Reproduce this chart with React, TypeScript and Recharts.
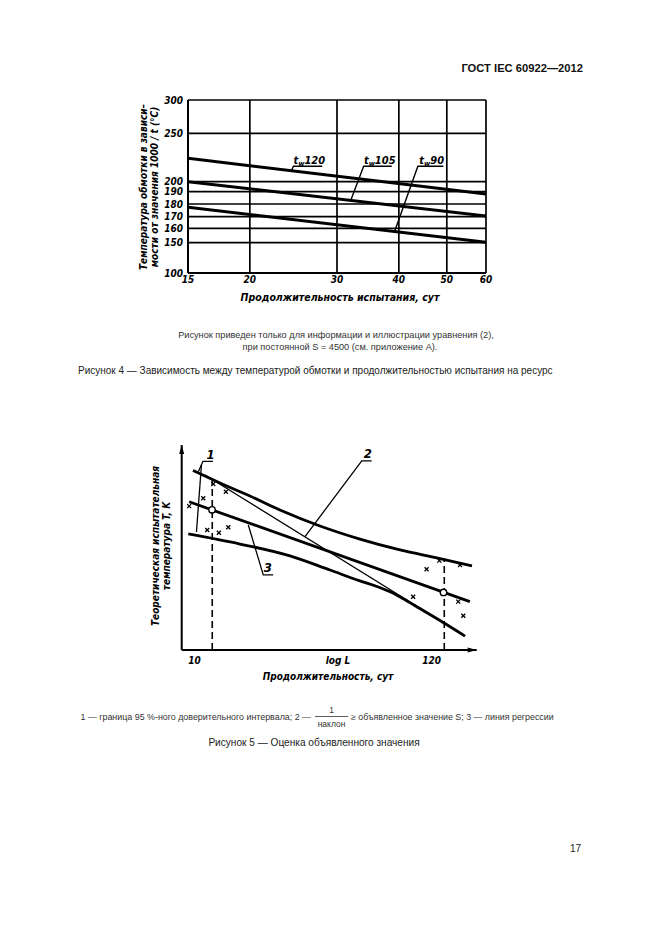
import React from 'react';
import { ComposedChart, Line, XAxis, YAxis, CartesianGrid, ReferenceDot, Scatter } from 'recharts';

const CHART_FONT = "'DejaVu Sans Condensed', 'Liberation Sans Narrow', 'DejaVu Sans', sans-serif";
const TEXT_FONT = "'Liberation Sans', Arial, sans-serif";

// ===== Figure 4 =====
const F4_DAY_TICKS = [15, 20, 30, 40, 50, 60];
const F4_TEMP_TICKS = [100, 150, 160, 170, 180, 190, 200, 250, 300];
// the printed temperature axis is non-uniform: relative height of each tick
const F4_TEMP_STEPS = [0, 0.1751, 0.2584, 0.3254, 0.3988, 0.4699, 0.5277, 0.8075, 1];
const F4_DAYS = [15, 60];
const F4_TW120 = [224.2, 188.1];
const F4_TW105 = [200, 170.6];
const F4_TW90 = [177.4, 150.3];
const F4_LEAD_120 = [{ day: 28.0, temp: 216 }, { day: 24.5, temp: 216 }, { day: 24.25, temp: 211.1 }];
const F4_LEAD_105 = [{ day: 38.7, temp: 216 }, { day: 33.96, temp: 216 }, { day: 32.0, temp: 183.2 }];
const F4_LEAD_90 = [{ day: 49.2, temp: 216 }, { day: 43.7, temp: 216 }, { day: 39.2, temp: 157.6 }];
const F4_LABELS = [
  { day: 24.5, temp: 218.8, text: '120' },
  { day: 34.0, temp: 218.8, text: '105' },
  { day: 44.0, temp: 218.8, text: '90' },
];

// ===== Figure 5 =====
const F5_X_DOMAIN = [0.942, 2.284]; // log L
const F5_Y_DOMAIN = [0, 100];
const F5_X_TICKS = [1, 1.653, 2.079];
const F5_X_TICK_LABELS = ['10', 'log L', '120'];
const F5_UPPER_X = [0.993, 1.116, 1.2525, 1.389, 1.571, 1.753, 1.935, 2.117, 2.2625];
const F5_UPPER_Y = [87.6, 81.5, 75.1, 68.3, 60.5, 54.1, 48.8, 44.6, 41.0];
const F5_REG_X = [0.976, 2.253];
const F5_REG_Y = [72.3, 23.6];
const F5_SLOPE_X = [1.048, 2.231];
const F5_SLOPE_Y = [85.4, 6.8];
const F5_LOWER_X = [0.972, 1.207, 1.4345, 1.6165, 1.753, 1.83, 1.89, 1.94, 2.0, 2.117, 2.231];
const F5_LOWER_Y = [56.6, 51.7, 45.9, 39.0, 33.7, 31.0, 28.4, 25.6, 21.8, 14.4, 6.8];
const F5_CIRCLES = [{ x: 1.080, y: 68.4 }, { x: 2.133, y: 28.1 }];
const F5_CROSSES = [
  { x: 1.040, y: 74.0 }, { x: 0.976, y: 70.2 }, { x: 1.058, y: 58.5 }, { x: 1.111, y: 57.2 },
  { x: 1.154, y: 59.9 }, { x: 1.0855, y: 81.0 }, { x: 1.143, y: 77.2 }, { x: 1.995, y: 26.0 },
  { x: 2.056, y: 39.4 }, { x: 2.114, y: 43.6 }, { x: 2.208, y: 41.5 }, { x: 2.200, y: 23.6 },
  { x: 2.223, y: 16.7 },
];
const F5_BOUND_1 = [{ x: 1.081, y: 0 }, { x: 1.081, y: 85.2 }];
const F5_BOUND_2 = [{ x: 2.1365, y: 0 }, { x: 2.1365, y: 44.9 }];
const F5_LEAD_1A = [{ x: 1.0842, y: 92.05 }, { x: 1.0387, y: 92.05 }, { x: 1.0182, y: 87.07 }];
const F5_LEAD_1B = [{ x: 1.0318, y: 90.24 }, { x: 1.0091, y: 57.56 }];
const F5_LEAD_2 = [{ x: 1.806, y: 92.3 }, { x: 1.761, y: 92.3 }, { x: 1.503, y: 55.3 }];
const F5_LEAD_3 = [{ x: 1.358, y: 36.6 }, { x: 1.313, y: 36.6 }, { x: 1.245, y: 61.0 }];
const F5_LABELS = [
  { x: 1.0728, y: 93.2, text: '1' },
  { x: 1.789, y: 93.7, text: '2' },
  { x: 1.334, y: 38.0, text: '3' },
];

function tempToScale(t: number): number {
  const n = F4_TEMP_TICKS.length;
  for (let i = 0; i < n - 1; i++) {
    const a = F4_TEMP_TICKS[i];
    const b = F4_TEMP_TICKS[i + 1];
    if (t <= b || i === n - 2) {
      return F4_TEMP_STEPS[i] + ((t - a) / (b - a)) * (F4_TEMP_STEPS[i + 1] - F4_TEMP_STEPS[i]);
    }
  }
  return 0;
}
function scaleLabel(v: number): string {
  let best = 0;
  F4_TEMP_STEPS.forEach((s, i) => {
    if (Math.abs(s - v) < Math.abs(F4_TEMP_STEPS[best] - v)) best = i;
  });
  return String(F4_TEMP_TICKS[best]);
}
const f4Series = (temps: number[]) => F4_DAYS.map((d, i) => ({ x: d, y: tempToScale(temps[i]) }));
const f4Pts = (pts: { day: number; temp: number }[]) => pts.map((p) => ({ x: p.day, y: tempToScale(p.temp) }));
const f5Series = (xs: number[], ys: number[]) => xs.map((x, i) => ({ x, y: ys[i] }));

const tickStyle = { fill: '#000', fontFamily: CHART_FONT, fontWeight: 700, fontStyle: 'italic', fontSize: 10, fontStretch: 'condensed' } as any;

const Cross = (p: any) => (
  <g stroke="#000" strokeWidth={1.3}>
    <line x1={p.cx - 2} y1={p.cy - 2} x2={p.cx + 2} y2={p.cy + 2} />
    <line x1={p.cx - 2} y1={p.cy + 2} x2={p.cx + 2} y2={p.cy - 2} />
  </g>
);
const Ring = (p: any) => <circle cx={p.cx} cy={p.cy} r={3.2} fill="#fff" stroke="#000" strokeWidth={1.4} />;

function Figure4() {
  const thin = { stroke: '#000', strokeWidth: 1.4, dot: false, isAnimationActive: false };
  const thick = { stroke: '#000', strokeWidth: 3, dot: false, isAnimationActive: false };
  const yTicks = F4_TEMP_TICKS.map(tempToScale);
  return (
    <ComposedChart width={661} height={320} margin={{ top: 100, right: 175, bottom: 17, left: 158 }}>
      <CartesianGrid stroke="#000" strokeWidth={1.7} />
      <XAxis type="number" dataKey="x" scale="log" domain={[15, 60]} ticks={F4_DAY_TICKS} allowDataOverflow
        interval={0} tickLine={false} tickSize={0} tickMargin={3} height={30}
        axisLine={{ stroke: '#000', strokeWidth: 2 }} tick={tickStyle} />
      <YAxis type="number" dataKey="y" domain={[0, 1]} ticks={yTicks} allowDataOverflow interval={0}
        tickFormatter={scaleLabel} tickLine={false} tickSize={0} tickMargin={5} width={30}
        axisLine={{ stroke: '#000', strokeWidth: 2 }} tick={tickStyle} />
      <Line data={f4Series(F4_TW120)} dataKey="y" {...thick} />
      <Line data={f4Series(F4_TW105)} dataKey="y" {...thick} />
      <Line data={f4Series(F4_TW90)} dataKey="y" {...thick} />
      <Line data={f4Pts(F4_LEAD_120)} dataKey="y" {...thin} />
      <Line data={f4Pts(F4_LEAD_105)} dataKey="y" {...thin} />
      <Line data={f4Pts(F4_LEAD_90)} dataKey="y" {...thin} />
      {F4_LABELS.map((l) => (
        <ReferenceDot key={l.text} x={l.day} y={tempToScale(l.temp)} r={0} ifOverflow="visible"
          shape={(p: any) => (
            <text x={p.cx} y={p.cy} fontFamily={CHART_FONT} fontWeight={700} fontStyle="italic" fontSize={11}
              style={{ fontStretch: 'condensed' }} fill="#000">
              <tspan>t</tspan>
              <tspan dy={2.5} fontSize={7.5}>w</tspan>
              <tspan dy={-2.5}>{l.text}</tspan>
            </text>
          )} />
      ))}
    </ComposedChart>
  );
}

function Figure5() {
  const thick = { stroke: '#000', strokeWidth: 2.8, dot: false, isAnimationActive: false };
  const thin = { stroke: '#000', strokeWidth: 1.3, dot: false, isAnimationActive: false };
  const dashed = { stroke: '#000', strokeWidth: 1.6, strokeDasharray: '7 4', dot: false, isAnimationActive: false };
  return (
    <ComposedChart width={661} height={300} margin={{ top: 45, right: 184.3, bottom: 20, left: 151.7 }}>
      <XAxis type="number" dataKey="x" domain={F5_X_DOMAIN} ticks={F5_X_TICKS} allowDataOverflow interval={0}
        tickFormatter={(v: number) => F5_X_TICK_LABELS[F5_X_TICKS.indexOf(v)] ?? ''}
        tickLine={false} tickSize={0} tickMargin={7} height={30}
        axisLine={{ stroke: '#000', strokeWidth: 2 }} tick={tickStyle} />
      <YAxis type="number" dataKey="y" domain={F5_Y_DOMAIN} allowDataOverflow tick={false} tickLine={false}
        width={30} axisLine={{ stroke: '#000', strokeWidth: 2 }} />
      <Line data={f5Series(F5_UPPER_X, F5_UPPER_Y)} dataKey="y" type="monotone" {...thick} />
      <Line data={f5Series(F5_REG_X, F5_REG_Y)} dataKey="y" {...thick} />
      <Line data={f5Series(F5_LOWER_X, F5_LOWER_Y)} dataKey="y" type="monotone" {...thick} />
      <Line data={f5Series(F5_SLOPE_X, F5_SLOPE_Y)} dataKey="y" {...thin} />
      <Line data={F5_BOUND_1} dataKey="y" {...dashed} />
      <Line data={F5_BOUND_2} dataKey="y" {...dashed} />
      <Line data={F5_LEAD_1A} dataKey="y" {...thin} />
      <Line data={F5_LEAD_1B} dataKey="y" {...thin} />
      <Line data={F5_LEAD_2} dataKey="y" {...thin} />
      <Line data={F5_LEAD_3} dataKey="y" {...thin} />
      <Scatter data={F5_CROSSES} dataKey="y" shape={Cross} isAnimationActive={false} />
      <Scatter data={F5_CIRCLES} dataKey="y" shape={Ring} isAnimationActive={false} />
      {F5_LABELS.map((l) => (
        <ReferenceDot key={l.text} x={l.x} y={l.y} r={0} ifOverflow="visible"
          shape={(p: any) => (
            <text x={p.cx} y={p.cy} textAnchor="middle" fontFamily={CHART_FONT} fontWeight={700}
              fontStyle="italic" fontSize={13} fill="#000">{l.text}</text>
          )} />
      ))}
      <ReferenceDot x={F5_X_DOMAIN[1]} y={F5_Y_DOMAIN[0]} r={0} ifOverflow="visible"
        shape={(p: any) => <polygon points={`${p.cx},${p.cy} ${p.cx - 9},${p.cy - 2.5} ${p.cx - 9},${p.cy + 2.5}`} fill="#000" />} />
      <ReferenceDot x={F5_X_DOMAIN[0]} y={F5_Y_DOMAIN[1]} r={0} ifOverflow="visible"
        shape={(p: any) => <polygon points={`${p.cx},${p.cy} ${p.cx - 2.5},${p.cy + 9} ${p.cx + 2.5},${p.cy + 9}`} fill="#000" />} />
    </ComposedChart>
  );
}

export default function App() {
  const axisTitle = { fontFamily: CHART_FONT, fontWeight: 700, fontStyle: 'italic', fill: '#000', style: { fontStretch: 'condensed' } } as any;
  const body = { fontFamily: TEXT_FONT, fill: '#222' } as any;
  return (
    <div style={{ position: 'absolute', left: 0, top: 0, width: 661, height: 935, background: '#fff', overflow: 'hidden' }}>
      <div style={{ position: 'absolute', left: 0, top: 0 }}><Figure4 /></div>
      <div style={{ position: 'absolute', left: 0, top: 400 }}><Figure5 /></div>
      <svg width={661} height={935} style={{ position: 'absolute', left: 0, top: 0, pointerEvents: 'none' }}>
        <text x={583} y={72} textAnchor="end" fontFamily={TEXT_FONT} fontWeight={700} fontSize={11.2} fill="#111">ГОСТ IEC 60922—2012</text>

        <text x={147} y={187} transform="rotate(-90 147 187)" textAnchor="middle" fontSize={10} {...axisTitle}>Температура обмотки в зависи–</text>
        <text x={157.5} y={187} transform="rotate(-90 157.5 187)" textAnchor="middle" fontSize={10} {...axisTitle}>мости от значения 1000 / t (°C)</text>
        <text x={340} y={301} textAnchor="middle" fontSize={10.5} {...axisTitle}>Продолжительность испытания, сут</text>

        <text x={336} y={338} textAnchor="middle" fontSize={9.2} {...body} fill="#333">Рисунок приведен только для информации и иллюстрации уравнения (2),</text>
        <text x={340} y={349.5} textAnchor="middle" fontSize={9.2} {...body} fill="#333">при постоянной S = 4500 (см. приложение А).</text>
        <text x={78} y={373.5} fontSize={10} {...body}>Рисунок 4 — Зависимость между температурой обмотки и продолжительностью испытания на ресурс</text>

        <text x={159} y={546} transform="rotate(-90 159 546)" textAnchor="middle" fontSize={10} {...axisTitle}>Теоретическая испытательная</text>
        <text x={169.5} y={546} transform="rotate(-90 169.5 546)" textAnchor="middle" fontSize={10} {...axisTitle}>температура T, K</text>
        <text x={328} y={680} textAnchor="middle" fontSize={10} {...axisTitle}>Продолжительность, сут</text>

        <text x={311} y={720} textAnchor="end" fontSize={8.9} {...body} fill="#333">1 — граница 95 %-ного доверительного интервала; 2 —</text>
        <text x={331.5} y={713} textAnchor="middle" fontSize={8.5} {...body} fill="#333">1</text>
        <line x1={315} y1={716.5} x2={348} y2={716.5} stroke="#333" strokeWidth={0.8} />
        <text x={331.5} y={726.5} textAnchor="middle" fontSize={8.5} {...body} fill="#333">наклон</text>
        <text x={351} y={720} fontSize={8.85} {...body} fill="#333">≥ объявленное значение S; 3 — линия регрессии</text>

        <text x={314} y={746} textAnchor="middle" fontSize={10.1} {...body}>Рисунок 5 — Оценка объявленного значения</text>
        <text x={581} y={852} textAnchor="end" fontSize={10} {...body}>17</text>
      </svg>
    </div>
  );
}
